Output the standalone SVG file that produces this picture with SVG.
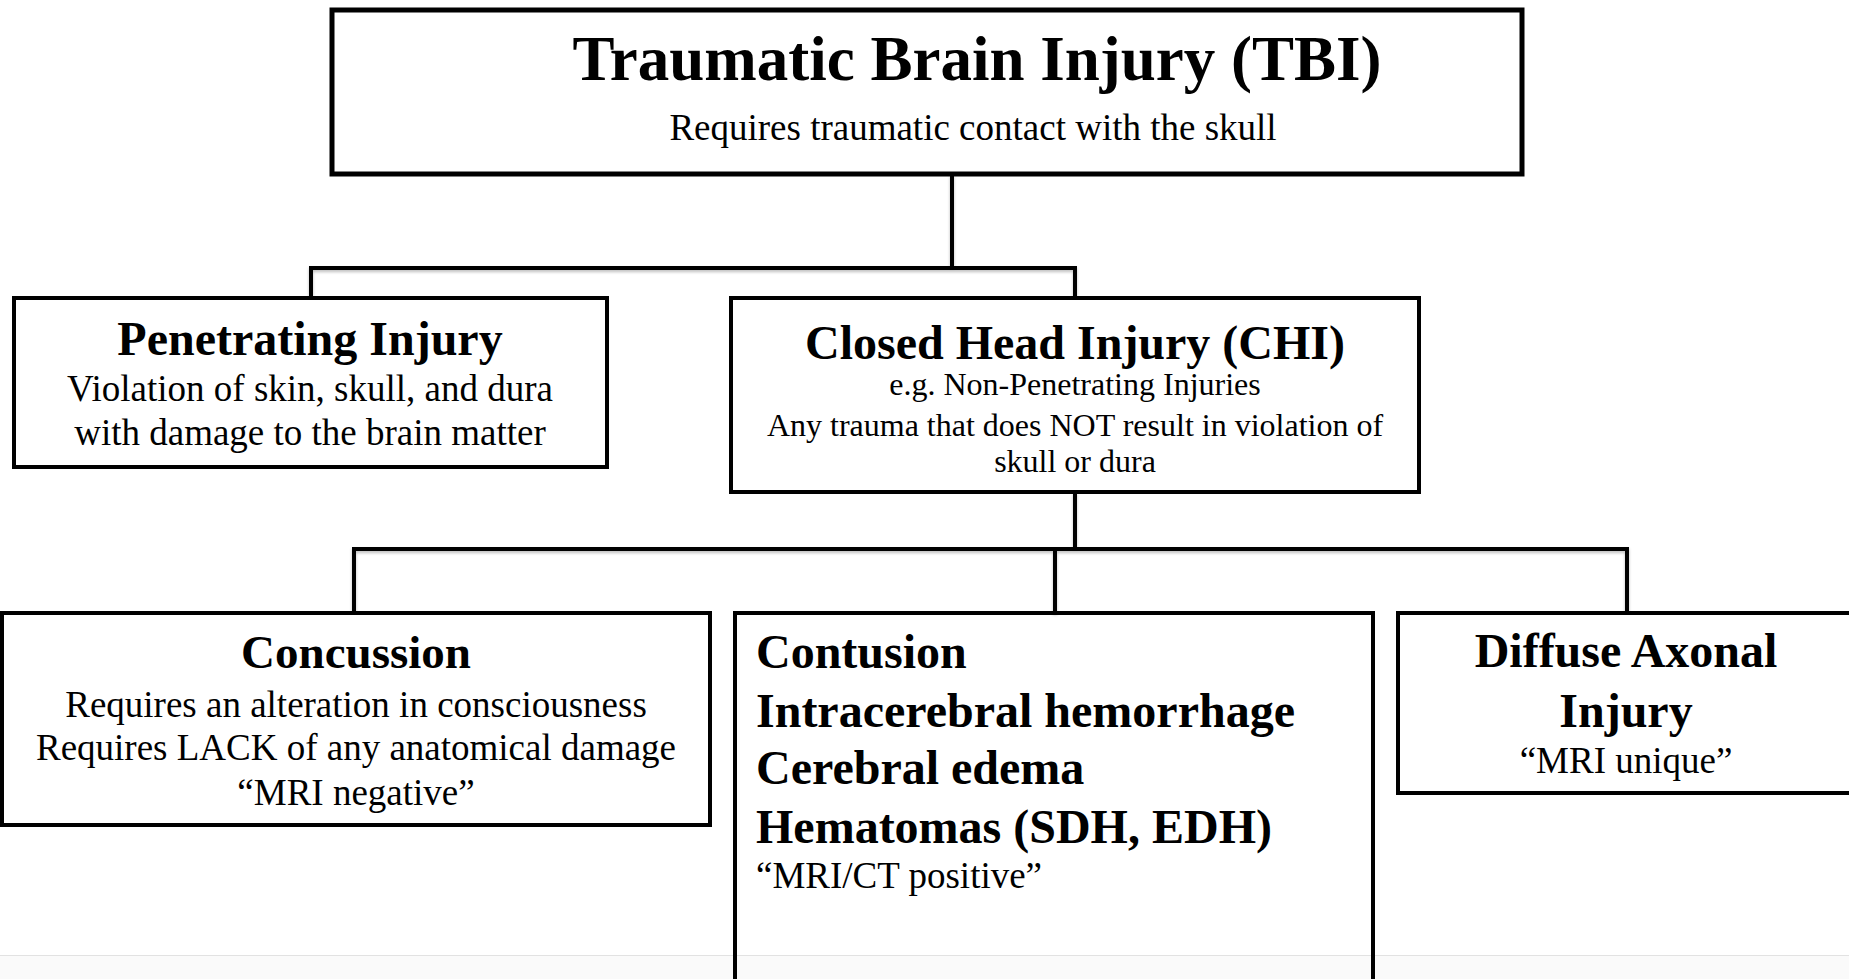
<svg xmlns="http://www.w3.org/2000/svg" width="1849" height="979" viewBox="0 0 1849 979">
  <style>
    .box { fill: #ffffff; stroke: #000000; stroke-width: 4; }
    .conn { fill: none; stroke: #000000; stroke-width: 4; stroke-linejoin: miter; }
    .t { font-family: "Liberation Serif", "Times New Roman", serif; fill: #000000; }
    .b { font-weight: bold; }
    .c { text-anchor: middle; }
  </style>
  <defs>
    <filter id="sh" x="-5%" y="-20%" width="110%" height="140%">
      <feDropShadow dx="0" dy="2" stdDeviation="1.5" flood-color="#000000" flood-opacity="0.25"/>
    </filter>
  </defs>
  <rect x="0" y="0" width="1849" height="979" fill="#ffffff"/>
  <rect x="0" y="956" width="1849" height="23" fill="#fafafa"/>
  <line x1="0" y1="955.5" x2="1849" y2="955.5" stroke="#e2e2e2" stroke-width="1"/>

  <g id="connectors" filter="url(#sh)">
    <path class="conn" d="M952 174 V268"/>
    <path class="conn" d="M311 298 V268 H1075 V298"/>
    <path class="conn" d="M1075 492 V549"/>
    <path class="conn" d="M354 613 V549 H1627 V613"/>
    <path class="conn" d="M1055 549 V613"/>
  </g>

  <g id="tbi">
    <rect class="box" x="332" y="10" width="1190" height="164" style="stroke-width:5"/>
    <text class="t b c" x="977" y="80" font-size="63">Traumatic Brain Injury (TBI)</text>
    <text class="t c" x="973" y="140" font-size="37">Requires traumatic contact with the skull</text>
  </g>

  <g id="penetrating">
    <rect class="box" x="14" y="298" width="593" height="169"/>
    <text class="t b c" x="310" y="355" font-size="48">Penetrating Injury</text>
    <text class="t c" x="310" y="401" font-size="37">Violation of skin, skull, and dura</text>
    <text class="t c" x="310" y="445" font-size="37">with damage to the brain matter</text>
  </g>

  <g id="chi">
    <rect class="box" x="731" y="298" width="688" height="194"/>
    <text class="t b c" x="1075" y="359" font-size="48">Closed Head Injury (CHI)</text>
    <text class="t c" x="1075" y="395" font-size="32">e.g. Non-Penetrating Injuries</text>
    <text class="t c" x="1075" y="436" font-size="32">Any trauma that does NOT result in violation of</text>
    <text class="t c" x="1075" y="472" font-size="32">skull or dura</text>
  </g>

  <g id="concussion">
    <rect class="box" x="2" y="613" width="708" height="212"/>
    <text class="t b c" x="356" y="668" font-size="47">Concussion</text>
    <text class="t c" x="356" y="717" font-size="37">Requires an alteration in consciousness</text>
    <text class="t c" x="356" y="760" font-size="37">Requires LACK of any anatomical damage</text>
    <text class="t c" x="356" y="805" font-size="37">“MRI negative”</text>
  </g>

  <g id="contusion">
    <rect class="box" x="735" y="613" width="638" height="368" style="fill:none"/>
    <text class="t b" x="756" y="668" font-size="48">Contusion</text>
    <text class="t b" x="756" y="727" font-size="48">Intracerebral hemorrhage</text>
    <text class="t b" x="756" y="784" font-size="48">Cerebral edema</text>
    <text class="t b" x="756" y="843" font-size="48">Hematomas (SDH, EDH)</text>
    <text class="t" x="756" y="888" font-size="37">“MRI/CT positive”</text>
  </g>

  <g id="diffuse">
    <rect class="box" x="1398" y="613" width="470" height="180"/>
    <text class="t b c" x="1626" y="667" font-size="48">Diffuse Axonal</text>
    <text class="t b c" x="1626" y="727" font-size="48">Injury</text>
    <text class="t c" x="1626" y="773" font-size="37">“MRI unique”</text>
  </g>
</svg>
